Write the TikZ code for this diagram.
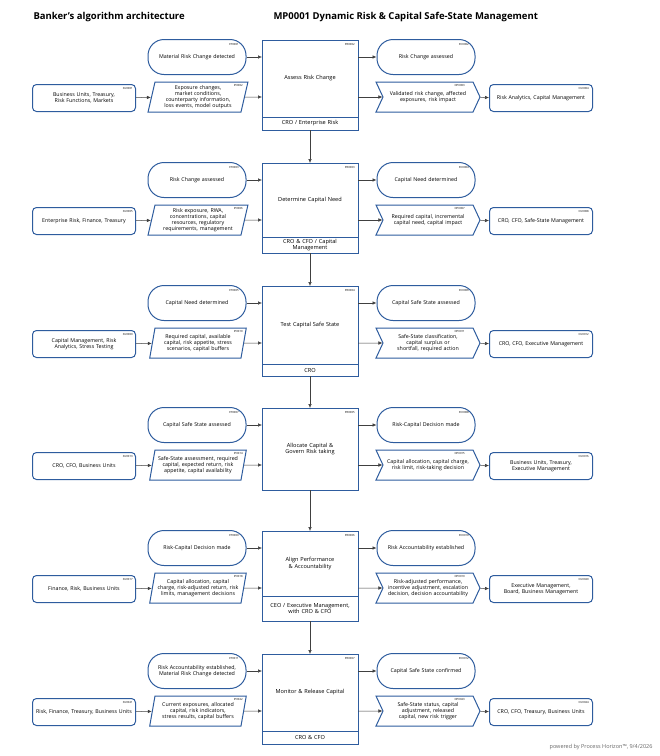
\documentclass[tikz,border=0pt]{standalone}
\usepackage{fontspec}
\setmainfont{Open Sans}
\usetikzlibrary{shapes.symbols,shapes.geometric,arrows.meta}
\definecolor{bl}{HTML}{2E5C9E}
\tikzset{
 base/.style={draw=bl,line width=1pt,align=center,font=\fontsize{5.3}{6.2}\selectfont,inner sep=1pt,fill=white},
 ev/.style={base,rounded corners=16pt,minimum width=98pt,minimum height=35pt,text width=90pt},
 sup/.style={base,rounded corners=4pt,minimum width=103pt,minimum height=27pt,text width=96pt},
 inp/.style={base,trapezium,trapezium left angle=75,trapezium right angle=105,minimum width=80pt,minimum height=30pt,text width=84pt,trapezium stretches=true},
 outp/.style={base,signal,signal to=east,signal from=west,signal pointer angle=130,minimum width=104pt,minimum height=30pt,text width=82pt},
 pr/.style={draw=bl,line width=1pt,fill=white},
 ptxt/.style={font=\fontsize{5.6}{6.6}\selectfont,align=center,text width=86pt},
 idt/.style={font=\fontsize{2.8}{3}\selectfont,inner sep=1pt,anchor=north east},
 ar/.style={-{Latex[length=4pt,width=3.5pt]},line width=0.5pt,draw=black!75},
}
\newcommand{\row}[9]{%
\node[ev] (ev#2) at (197,#1+17) {#3};
\node[sup] (su#2) at (84,#1+58) {#4};
\node[inp] (in#2) at (198,#1+57) {#5};
\node[ev] (oc#2) at (426,#1+17) {#8};
\node[outp] (op#2) at (428,#1+57) {#9};
}
\begin{document}
\hyphenpenalty=10000 \exhyphenpenalty=10000
\begin{tikzpicture}[x=1pt,y=-1pt]
\useasboundingbox (0,0) rectangle (660,756);
\node[font=\bfseries\fontsize{9.5}{11}\selectfont,anchor=west] (t1) at (30,17) {Banker's algorithm architecture};
\node[font=\bfseries\fontsize{9.5}{11}\selectfont,anchor=west] (t2) at (270,17) {MP0001 Dynamic Risk \& Capital Safe-State Management};
\foreach \ty/\s/\bh/\rh/\pt/\rt/\cu in {
 40/a/90/13/{Assess Risk Change}/{CRO / Enterprise Risk}/{Risk Analytics, Capital Management},
 163/b/90/16/{Determine Capital Need}/{CRO \& CFO / Capital Management}/{CRO, CFO, Safe-State Management},
 286/c/90/12/{Test Capital Safe State}/{CRO}/{CRO, CFO, Executive Management},
 408/d/82/0/{Allocate Capital \& Govern Risk taking}/{}/{Business Units, Treasury, Executive Management},
 531/e/90/25/{Align Performance \& Accountability}/{CEO / Executive Management, with CRO \& CFO}/{Executive Management, Board, Business Management},
 654/f/90/13/{Monitor \& Release Capital}/{CRO \& CFO}/{CRO, CFO, Treasury, Business Units}}{
 \path[pr] (262,\ty) rectangle (358,\ty+\bh);
 \coordinate (pt\s) at (310,\ty);
 \coordinate (pb\s) at (310,\ty+\bh);
 \coordinate (pl\s) at (262,\ty+17);
 \coordinate (pl2\s) at (262,\ty+57);
 \coordinate (pr\s) at (358,\ty+17);
 \coordinate (pr2\s) at (358,\ty+57);
 \ifnum\rh>0 \draw[bl,line width=1pt] (262,\ty+\bh-\rh) -- (358,\ty+\bh-\rh);
 \node[ptxt] (rt\s) at (310,\ty+\bh-\rh/2) {\rt};\fi
 \node[ptxt] (pn\s) at (310,\ty+\bh/2-\rh/2) {\pt};
 \node[sup] (cu\s) at (541,\ty+58) {\cu};
}
\row{40}{a}{Material Risk Change detected}{Business Units, Treasury, Risk Functions, Markets}{Exposure changes, market conditions, counterparty information, loss events, model outputs}{}{}{Risk Change assessed}{Validated risk change, affected exposures, risk impact}
\row{163}{b}{Risk Change assessed}{Enterprise Risk, Finance, Treasury}{Risk exposure, RWA, concentrations, capital resources, regulatory requirements, management}{}{}{Capital Need determined}{Required capital, incremental capital need, capital impact}
\row{286}{c}{Capital Need determined}{Capital Management, Risk Analytics, Stress Testing}{Required capital, available capital, risk appetite, stress scenarios, capital buffers}{}{}{Capital Safe State assessed}{Safe-State classification, capital surplus or shortfall, required action}
\row{408}{d}{Capital Safe State assessed}{CRO, CFO, Business Units}{Safe-State assessment, required capital, expected return, risk appetite, capital availability}{}{}{Risk-Capital Decision made}{Capital allocation, capital charge, risk limit, risk-taking decision}
\row{531}{e}{Risk-Capital Decision made}{Finance, Risk, Business Units}{Capital allocation, capital charge, risk-adjusted return, risk limits, management decisions}{}{}{Risk Accountability established}{Risk-adjusted performance, incentive adjustment, escalation decision, decision accountability}
\row{654}{f}{Risk Accountability established, Material Risk Change detected}{Risk, Finance, Treasury, Business Units}{Current exposures, allocated capital, risk indicators, stress results, capital buffers}{}{}{Capital Safe State confirmed}{Safe-State status, capital adjustment, released capital, new risk trigger}
\foreach \s/\ty/\a/\b/\c/\d/\e/\f/\g in {a/40/ET0001/PR0002/EC0002/SU0001/IP0002/OP0003/CU0004,b/163/ET0003/PR0003/EC0004/SU0005/IP0006/OP0007/CU0008,c/286/ET0005/PR0004/EC0006/SU0009/IP0010/OP0011/CU0012,d/408/ET0007/PR0005/EC0008/SU0013/IP0014/OP0015/CU0016,e/531/ET0009/PR0006/EC0010/SU0017/IP0018/OP0019/CU0020,f/654/ET0011/PR0007/EC0012/SU0021/IP0022/OP0023/CU0024}{
 \node[idt] (i1\s) at (240,\ty+2) {\a};
 \node[idt] (i2\s) at (356,\ty+2) {\b};
 \node[idt] (i3\s) at (470,\ty+2) {\c};
 \node[idt] (i4\s) at (134,\ty+46) {\d};
 \node[idt] (i5\s) at (244,\ty+43) {\e};
 \node[idt] (i6\s) at (466,\ty+43) {\f};
 \node[idt] (i7\s) at (590,\ty+46) {\g};
 \draw[ar] (ev\s) -- (pl\s);
 \draw[ar] (su\s) -- (in\s);
 \draw[ar] (in\s) -- (pl2\s);
 \draw[ar] (pr\s) -- (oc\s);
 \draw[ar] (pr2\s) -- (op\s);
 \draw[ar] (op\s) -- (cu\s);
}
\foreach \u/\v in {a/b,b/c,c/d,d/e,e/f} \draw[ar] (pb\u) -- (pt\v);
\node[font=\fontsize{5.5}{6}\selectfont,text=black!60,anchor=east] (ft) at (656,747) {powered by Process Horizon\texttrademark, 9/4/2026};
\end{tikzpicture}
\end{document}
